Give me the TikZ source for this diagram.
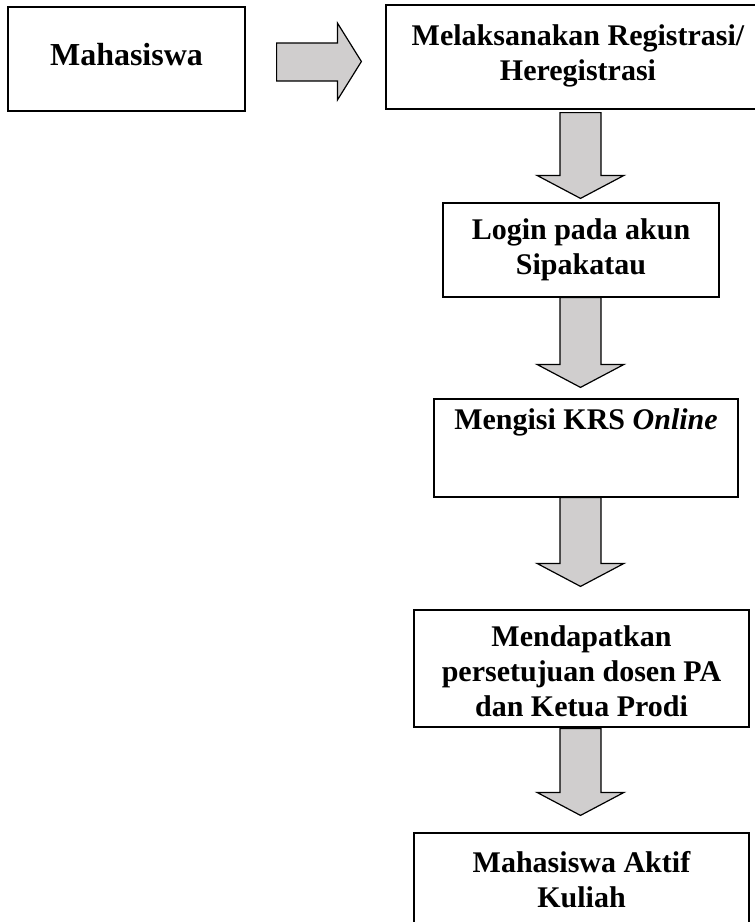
\documentclass[tikz,border=0pt]{standalone}
\usepackage{fontspec}
\setmainfont{Liberation Serif}
\usetikzlibrary{calc}
\definecolor{arrowgray}{RGB}{208,206,206}
\newcommand\blockdown[4]{% #1 from node, #2 to node, #3 shaft start offset, #4 tip gap
  \draw[blockarrow] let \p1=(#1.south), \p2=(#2.north) in
    (560,\y1-#3pt) -- (560,\y2+#4pt+23pt) -- (537,\y2+#4pt+23pt) -- (580.5,\y2+#4pt)
    -- (624,\y2+#4pt+23pt) -- (601,\y2+#4pt+23pt) -- (601,\y1-#3pt) -- cycle;}
\begin{document}
\begin{tikzpicture}[x=1pt,y=-1pt,
  box/.style={draw, line width=1.2pt, inner sep=0pt, align=center,
    font=\bfseries\fontsize{30}{35}\selectfont},
  blockarrow/.style={draw, line width=1.2pt, fill=arrowgray, line join=miter},
  label/.style={inner sep=0pt, align=center, font=\bfseries\fontsize{30}{35}\selectfont}]
\useasboundingbox (0,0) rectangle (755,922);
\clip (0,0) rectangle (755,922);
\fill[white] (0,0) rectangle (755,922);

\node[box, minimum width=237pt, minimum height=104pt, text depth=10pt,
  font=\bfseries\fontsize{32}{36}\selectfont] (A) at (126.5,59) {Mahasiswa};
\node[box, minimum width=384pt, minimum height=104pt] (B) at (578,57) {};
\node[label] at (578,56) {Melaksanakan Registrasi/\\Heregistrasi};
\node[box, minimum width=276pt, minimum height=94pt] (C) at (581,250) {Login pada akun\\Sipakatau};
\node[box, minimum width=304pt, minimum height=98pt] (D) at (586,448) {};
\node[label, anchor=north] at ([yshift=-10pt]D.north) {Mengisi KRS \textit{Online}};
\node[box, minimum width=335pt, minimum height=117pt] (E) at (581.5,668.5) {};
\node[label] at (581.5,671) {Mendapatkan\\persetujuan dosen PA\\dan Ketua Prodi};
\node[box, minimum width=335pt, minimum height=96pt] (F) at (581.5,881) {};
\node[label] at (581.5,880) {Mahasiswa Aktif\\Kuliah};

% right block arrow
\draw[blockarrow] let \p1=(A.east), \p2=(B.west) in
  (\x1+31pt,43) -- (\x2-48pt,43) -- (\x2-48pt,23) -- (\x2-24pt,61.5)
  -- (\x2-48pt,100) -- (\x2-48pt,81) -- (\x1+31pt,81) -- cycle;

\blockdown{B}{C}{3}{4}
\blockdown{C}{D}{0}{11}
\blockdown{D}{E}{0}{23}
\blockdown{E}{F}{1}{17}
\end{tikzpicture}
\end{document}
